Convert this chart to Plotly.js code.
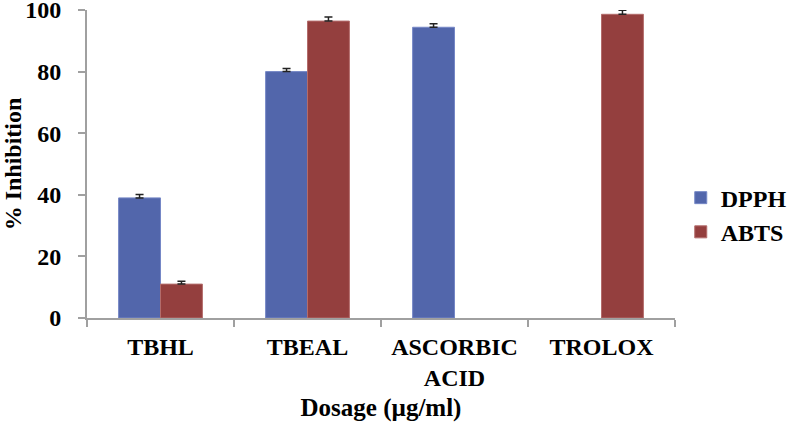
<!DOCTYPE html>
<html>
<head>
<meta charset="utf-8">
<script src="https://cdn.plot.ly/plotly-3.0.1.min.js"></script>
<style>html,body{margin:0;padding:0;background:#fff;}#chart{width:787px;height:425px;}</style>
</head>
<body>
<div id="chart"></div>
<script>
var categories = ["TBHL", "TBEAL", "ASCORBIC<br>ACID", "TROLOX"];
var dpphValues = [39, 80, 94.4, null];
var dpphErrors = [1.1, 1.0, 1.1, 0];
var abtsValues = [11, 96.4, null, 98.6];
var abtsErrors = [0.9, 1.3, 0, 1.3];
var yTicks = [0, 20, 40, 60, 80, 100];

var FAM = "Liberation Serif";
var font = {family: FAM, size: 24, color: "#000", weight: "bold"};

var traces = [
  {
    type: "bar", name: "DPPH", x: categories, y: dpphValues, legendgroup: "a",
    marker: {color: "#5266ab", line: {color: "#7587c6", width: 1}},
    error_y: {type: "data", symmetric: false, array: dpphErrors, arrayminus: [0, 0, 0, 0], visible: true, color: "#222", thickness: 1.5, width: 4}
  },
  {
    type: "bar", name: "ABTS", x: categories, y: abtsValues, legendgroup: "b",
    marker: {color: "#943f3e", line: {color: "#b36c6b", width: 1}},
    error_y: {type: "data", symmetric: false, array: abtsErrors, arrayminus: [0, 0, 0, 0], visible: true, color: "#222", thickness: 1.5, width: 4}
  }
];

var layout = {
  width: 787, height: 425,
  margin: {l: 87, r: 112, t: 10, b: 107},
  paper_bgcolor: "#fff", plot_bgcolor: "#fff",
  barmode: "group", bargap: 0.43, bargroupgap: 0,
  font: font,
  showlegend: true,
  legend: {xref: "container", yref: "container", x: 0.865, y: 0.494, xanchor: "left", yanchor: "middle",
           font: font, tracegroupgap: 0, itemwidth: 30, bgcolor: "rgba(0,0,0,0)"},
  xaxis: {
    type: "category", tickson: "boundaries", ticks: "outside", ticklen: 7, tickcolor: "#a0a0a0", tickwidth: 2,
    showline: true, linecolor: "#a0a0a0", linewidth: 2, showgrid: false,
    tickfont: font, ticklabelstandoff: 6,
    title: {text: "Dosage (µg/ml)", font: {family: FAM, size: 25, color: "#000", weight: "bold"}, standoff: 8},
    automargin: false
  },
  yaxis: {
    range: [0, 100], tickvals: yTicks,
    ticks: "outside", ticklen: 7, tickcolor: "#a0a0a0", tickwidth: 2, ticklabeloverflow: "allow",
    showline: true, linecolor: "#a0a0a0", linewidth: 2, showgrid: false, zeroline: false,
    tickfont: font, ticklabelstandoff: 12,
    title: {text: "% Inhibition", font: font, standoff: 8},
    automargin: false
  }
};

Plotly.newPlot("chart", traces, layout, {displayModeBar: false, staticPlot: true});
</script>
</body>
</html>
